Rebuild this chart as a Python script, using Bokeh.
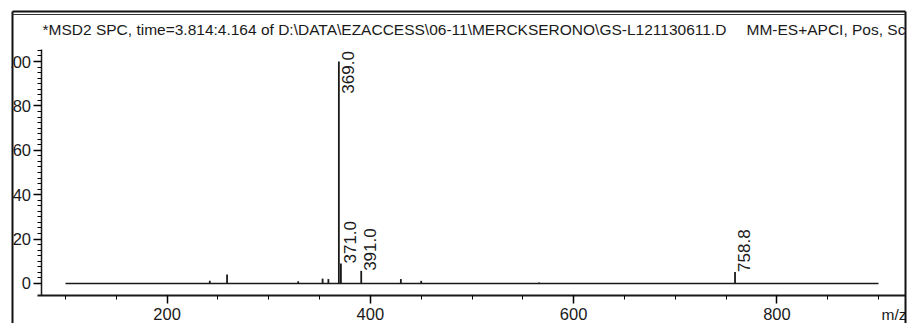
import math
from bokeh.plotting import figure
from bokeh.models import Range1d, FixedTicker, Label
from bokeh.core.properties import value
from bokeh.embed import file_html
from bokeh.resources import INLINE

# ---- data ----
scan_range = [100, 900]                       # m/z extent of the baseline
peak_mz = [242.0, 259.0, 329.0, 353.0, 358.7, 369.0, 371.0, 391.0, 430.0, 450.0, 566.0, 758.8]
peak_int = [1.2, 4.0, 1.0, 2.2, 2.0, 100.0, 9.0, 5.7, 2.0, 1.2, 0.5, 5.2]
label_mz = [369.0, 371.0, 391.0, 758.8]
label_text = ["369.0", "371.0", "391.0", "758.8"]
x_ticks = [200, 400, 600, 800]
x_minor = [100, 150, 200, 250, 300, 350, 400, 450, 500, 550, 600, 650, 700, 750, 800, 850, 900]
y_ticks = [0, 20, 40, 60, 80, 100]
title_left = "*MSD2 SPC, time=3.814:4.164 of D:\\DATA\\EZACCESS\\06-11\\MERCKSERONO\\GS-L121130611.D"
title_right = "MM-ES+APCI, Pos, Sc"
x_label = "m/z"

FONT = "Liberation Sans"
INK = "#1a1a1a"
W, H = 907, 323
# data ranges chosen so that the frame spans the whole canvas
XL, XR = 36.07, 928.5
YB, YT = -18.02, 127.48


def cx(px):
    return XL + px * (XR - XL) / W


def cy(py):
    return YT - py * (YT - YB) / H


p = figure(width=W, height=H, output_backend="svg", toolbar_location=None,
           x_range=Range1d(XL, XR), y_range=Range1d(YB, YT), min_border=0)
p.outline_line_color = None
p.grid.visible = False
p.background_fill_color = "white"
p.border_fill_color = "white"

# baseline and peaks
p.segment(x0=[scan_range[0]], y0=[0], x1=[scan_range[1]], y1=[0], line_color=INK, line_width=1.5)
p.segment(x0=peak_mz, y0=[0] * len(peak_mz), x1=peak_mz, y1=peak_int, line_color=INK, line_width=1.8)

# peak labels (rotated); a label that would run past the top is placed beside the apex
lookup = dict(zip(peak_mz, peak_int))
label_y = [min(lookup[m], 85.5) for m in label_mz]
p.text(x=label_mz, y=label_y, text=label_text, angle=math.pi / 2, x_offset=3,
       text_align="left", text_baseline="top", text_font=value(FONT),
       text_font_size="17px", text_color=INK)

# header text inside the box
p.text(x=[cx(42)], y=[cy(29)], text=[title_left], text_align="left", text_baseline="alphabetic",
       text_font=value(FONT), text_font_size="15.5px", text_color=INK)
p.text(x=[cx(746)], y=[cy(29)], text=[title_right], text_align="left", text_baseline="alphabetic",
       text_font=value(FONT), text_font_size="15.5px", text_color=INK)

# axes drawn at fixed positions inside the canvas
xa = p.xaxis[0]
xa.fixed_location = cy(295)
xa.bounds = (cx(37), cx(905))
xa.ticker = FixedTicker(ticks=x_ticks, minor_ticks=x_minor)
xa.major_tick_out = 8
xa.major_tick_in = 0
xa.minor_tick_out = 4
xa.minor_tick_in = 0
xa.axis_line_width = 2
xa.axis_line_color = INK
xa.major_tick_line_width = 1.5
xa.major_label_standoff = 4
xa.major_label_text_font = FONT
xa.major_label_text_font_size = "16.5px"
xa.major_label_text_color = INK

ya = p.yaxis[0]
ya.fixed_location = cx(40.5)
ya.bounds = (cy(295), cy(49))
ya.ticker = FixedTicker(ticks=y_ticks, minor_ticks=[i * 2.5 for i in range(0, 43)])
ya.major_tick_out = 8
ya.major_tick_in = 0
ya.minor_tick_out = 4
ya.minor_tick_in = 0
ya.axis_line_width = 1.5
ya.axis_line_color = INK
ya.major_tick_line_width = 1.5
ya.major_label_standoff = 2
ya.major_label_text_font = FONT
ya.major_label_text_font_size = "16.5px"
ya.major_label_text_color = INK

# x-axis caption at right end
p.add_layout(Label(x=881, y=305, x_units="canvas", y_units="canvas", text=x_label,
                   text_font=FONT, text_font_size="15.5px", text_baseline="top", text_color=INK))

# page frame: white strips at the edges (crop the tick labels / header) and the box lines
p.quad(left=[cx(0)], right=[cx(11)], top=[cy(0)], bottom=[cy(H)], fill_color="white",
       line_color=None, level="overlay")
p.quad(left=[cx(906)], right=[cx(W)], top=[cy(0)], bottom=[cy(H)], fill_color="white",
       line_color=None, level="overlay")
p.segment(x0=[cx(12), cx(12), cx(905)], y0=[cy(11), cy(11), cy(11)],
          x1=[cx(905), cx(12), cx(905)], y1=[cy(11), cy(H), cy(H)],
          line_color="#111111", line_width=2, level="overlay")
p.segment(x0=[cx(12)], y0=[cy(14)], x1=[cx(905)], y1=[cy(14)],
          line_color="#333333", line_width=1, level="overlay")

open("out.html", "w").write(file_html(p, INLINE))
